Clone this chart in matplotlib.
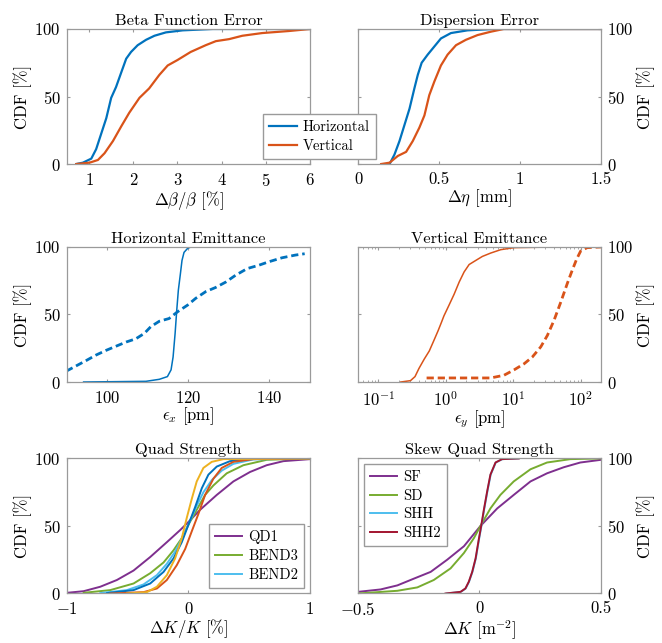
import numpy as np
import matplotlib
matplotlib.use("Agg")
from matplotlib import pyplot as plt

# MATLAB default line colours
BLUE = "#0072BD"
ORANGE = "#D95319"
YELLOW = "#EDB120"
PURPLE = "#7E2F8E"
GREEN = "#77AC30"
CYAN = "#4DBEEE"
DARKRED = "#A2142F"
AXCOL = "#9a9a9a"

# beta-beating CDFs, x in %
beta_h_x = [0.71, 0.86, 1.05, 1.16, 1.27, 1.39, 1.50, 1.61, 1.73, 1.84, 1.95,
            2.10, 2.29, 2.48, 2.74, 3.12, 3.80, 6.00]
beta_h_cdf = [0, 1, 4, 11, 22, 34, 49, 57, 68, 78, 83, 88, 92, 95, 97.5, 99, 100, 100]
beta_v_x = [0.71, 1.01, 1.20, 1.35, 1.54, 1.73, 1.91, 2.14, 2.36, 2.59, 2.78,
            3.00, 3.30, 3.64, 3.87, 4.17, 4.47, 4.92, 5.52, 6.00]
beta_v_cdf = [0, 1, 3, 8, 17, 28, 38, 49, 56, 66, 73, 77, 83, 88, 91, 92.5, 95,
              97, 98.5, 100]

# dispersion error CDFs, x in mm
disp_h_x = [0.195, 0.225, 0.256, 0.287, 0.318, 0.348, 0.369, 0.393, 0.430,
            0.471, 0.512, 0.574, 0.676, 0.840, 1.50]
disp_h_cdf = [0, 7, 17, 29, 41, 56, 66, 75, 81, 87, 93, 97, 99, 100, 100]
disp_v_x = [0.143, 0.195, 0.246, 0.297, 0.338, 0.379, 0.410, 0.440, 0.471,
            0.512, 0.553, 0.605, 0.666, 0.738, 0.820, 0.900, 1.50]
disp_v_cdf = [0, 1, 6, 9, 17, 27, 36, 51, 61, 73, 81, 88, 92, 95.5, 98, 100, 100]

# horizontal emittance, pm
ex_corr_x = [94.1, 109.5, 112.8, 114.8, 115.7, 116.2, 116.7, 117.1, 117.5,
             118.0, 118.4, 118.9, 119.8, 120.6]
ex_corr_cdf = [0, 0.5, 2, 4, 9, 18.5, 36, 53, 68, 80, 90, 96, 99, 100]
ex_init_x = [89.8, 92.3, 94.8, 97.2, 99.7, 102.1, 104.6, 107.0, 109.1, 110.7,
             112.8, 115.2, 117.3, 119.8, 121.8, 124.3, 126.7, 129.2, 131.6,
             134.5, 137.4, 139.8, 143.1, 146.4, 148.7]
ex_init_cdf = [8, 12, 16, 20, 23.5, 26.5, 29.6, 32, 36, 41, 45, 47, 52, 57, 62,
               67, 70, 74, 79, 84, 86.5, 89, 92, 94, 95]

# vertical emittance, pm
ey_corr_x = [0.215, 0.30, 0.35, 0.40, 0.48, 0.57, 0.67, 0.77, 0.86, 0.94, 1.12,
             1.33, 1.58, 1.87, 2.22, 2.78, 3.49, 4.64, 6.53, 10.3, 42.6]
ey_corr_cdf = [0, 1, 4, 10, 17, 23, 31, 38, 44, 49, 57, 65, 74, 81.5, 87, 90,
               93, 95.5, 98, 99.5, 100]
ey_init_x = [0.52, 1.19, 4.64, 7.3, 10.3, 14.5, 19.2, 25.6, 32.1, 40.3, 50.6,
             63.4, 75.3, 87.2, 100, 125, 200]
ey_init_cdf = [3, 3, 3, 5, 9, 13.5, 18.5, 26, 34.5, 45.7, 59, 73, 83, 91, 97,
               99.5, 100]

# quadrupole strength errors, %
qd1_x = [-1.0, -0.863, -0.726, -0.589, -0.452, -0.315, -0.178, -0.068, 0.0,
         0.096, 0.233, 0.37, 0.507, 0.644, 0.781, 1.0]
qd1_cdf = [0.5, 1.7, 5, 10, 17, 27, 38, 47, 53, 62, 73, 83, 90, 95, 98, 99.5]
bend3_x = [-0.863, -0.644, -0.452, -0.315, -0.205, -0.123, -0.055, 0.0, 0.068,
           0.137, 0.205, 0.315, 0.452, 0.644, 1.0]
bend3_cdf = [0.5, 2.5, 7.4, 15, 23, 32, 41, 51, 62, 73, 80, 89, 95, 99, 100]
bend2_x = [-0.726, -0.507, -0.37, -0.26, -0.178, -0.11, -0.041, 0.014, 0.068,
           0.123, 0.192, 0.274, 0.37, 0.534, 1.0]
bend2_cdf = [0.3, 2.5, 6.7, 13.6, 22, 31, 43, 54, 65, 75, 84, 91, 96, 99.3, 100]
quad4_x = [-0.67, -0.452, -0.315, -0.205, -0.123, -0.055, 0.0, 0.055, 0.11,
           0.164, 0.233, 0.342, 0.507, 1.0]
quad4_cdf = [0.3, 2.5, 7.4, 16, 26, 38, 51, 64, 78, 88, 94, 98, 99.5, 100]
quad5_x = [-0.644, -0.37, -0.26, -0.178, -0.096, -0.027, 0.027, 0.082, 0.137,
           0.205, 0.274, 0.37, 0.534, 1.0]
quad5_cdf = [0, 1, 3.7, 10, 21, 33, 46, 59, 73, 85, 93, 97.5, 99.5, 100]
quad6_x = [-0.507, -0.342, -0.26, -0.178, -0.11, -0.055, -0.014, 0.027, 0.068,
           0.123, 0.192, 0.288, 1.0]
quad6_cdf = [0, 1, 5, 13.6, 26, 41, 56, 70, 83, 93, 97.5, 99.5, 100]

# skew quadrupole strengths, m^-2
sf_x = [-0.5, -0.407, -0.338, -0.27, -0.201, -0.133, -0.064, 0.004, 0.073,
        0.141, 0.21, 0.278, 0.347, 0.415, 0.5]
sf_cdf = [1.2, 3, 6, 11, 16, 25, 35, 50, 63, 73, 83, 89, 93.5, 97, 99]
sd_x = [-0.5, -0.338, -0.256, -0.188, -0.119, -0.064, -0.023, 0.004, 0.045,
        0.086, 0.141, 0.21, 0.278, 0.374, 0.5]
sd_cdf = [0, 2, 4.5, 10, 18.6, 30, 41, 50, 63, 73, 83, 92, 97, 99.5, 100]
shh_x = [-0.135, -0.077, -0.057, -0.043, -0.029, -0.015, -0.002, 0.008, 0.019,
         0.033, 0.046, 0.067, 0.094, 0.16]
shh_cdf = [0, 1.2, 3.7, 8.7, 16, 26, 40, 50, 62, 76, 88, 97, 99.5, 100]
shh2_x = [-0.14, -0.078, -0.058, -0.044, -0.030, -0.016, -0.003, 0.007, 0.018,
          0.032, 0.045, 0.066, 0.093, 0.162]
shh2_cdf = [0, 1.2, 3.7, 8.7, 16, 26, 40, 50, 62, 76, 88, 97, 99.5, 100]

plt.rcParams.update({
    "font.family": "serif",
    "font.serif": ["cmr10"],
    "mathtext.fontset": "cm",
    "axes.formatter.use_mathtext": True,
    "font.size": 12,
    "axes.edgecolor": AXCOL,
    "axes.linewidth": 0.9,
    "xtick.color": AXCOL,
    "ytick.color": AXCOL,
    "xtick.labelcolor": "black",
    "ytick.labelcolor": "black",
    "xtick.labelsize": 12,
    "ytick.labelsize": 12,
    "xtick.direction": "in",
    "ytick.direction": "in",
    "xtick.major.size": 2.5,
    "ytick.major.size": 2.5,
    "xtick.minor.size": 1.3,
    "xtick.major.pad": 5.5,
    "ytick.major.pad": 4.5,
    "xtick.top": True,
    "ytick.right": True,
    "legend.edgecolor": AXCOL,
    "legend.fancybox": False,
    "legend.framealpha": 1,
    "legend.fontsize": 10.5,
    "legend.handlelength": 1.9,
    "legend.handletextpad": 0.4,
    "legend.borderpad": 0.4,
    "legend.labelspacing": 0.35,
})

fig = plt.figure(figsize=(6.62, 6.43), dpi=100)
W, H = 0.367, 0.21
xl, xr = 0.1012, 0.5408
rows = [0.7449, 0.4059, 0.0770]


def make_ax(col, row, title, xlabel):
    x0 = xl if col == 0 else xr
    ax = fig.add_axes([x0, rows[row], W, H])
    ax.set_title(title, fontsize=11.8, pad=3)
    ax.set_xlabel(xlabel, labelpad=0)
    ax.set_ylim(0, 100)
    ax.set_yticks([0, 50, 100])
    ax.set_ylabel("CDF [%]", labelpad=2)
    if col == 1:
        ax.yaxis.set_label_position("right")
        ax.yaxis.set_tick_params(labelleft=False, labelright=True)
    return ax


# beta function error
ax1 = make_ax(0, 0, "Beta Function Error", r"$\Delta\beta/\beta$ [%]")
h1, = ax1.plot(beta_h_x, beta_h_cdf, color=BLUE, lw=1.6, label="Horizontal")
h2, = ax1.plot(beta_v_x, beta_v_cdf, color=ORANGE, lw=1.6, label="Vertical")
ax1.set_xlim(0.5, 6)
ax1.set_xticks([1, 2, 3, 4, 5, 6])

# dispersion error
ax2 = make_ax(1, 0, "Dispersion Error", r"$\Delta\eta$ [mm]")
ax2.plot(disp_h_x, disp_h_cdf, color=BLUE, lw=1.6)
ax2.plot(disp_v_x, disp_v_cdf, color=ORANGE, lw=1.6)
ax2.set_xlim(0, 1.5)
ax2.set_xticks([0, 0.5, 1, 1.5])
ax2.set_xticklabels(["0", "0.5", "1", "1.5"])

fig.legend(handles=[h1, h2], loc="center", bbox_to_anchor=(0.4826, 0.7877))

# horizontal emittance
ax3 = make_ax(0, 1, "Horizontal Emittance", r"$\epsilon_x$ [pm]")
ax3.plot(ex_corr_x, ex_corr_cdf, color=BLUE, lw=1.1)
ax3.plot(ex_init_x, ex_init_cdf, color=BLUE, lw=2.0, ls=(0, (2.6, 1.4)))
ax3.set_xlim(90, 150)
ax3.set_xticks([100, 120, 140])

# vertical emittance
ax4 = make_ax(1, 1, "Vertical Emittance", r"$\epsilon_y$ [pm]")
ax4.plot(ey_corr_x, ey_corr_cdf, color=ORANGE, lw=1.1)
ax4.plot(ey_init_x, ey_init_cdf, color=ORANGE, lw=2.0, ls=(0, (2.6, 1.4)))
ax4.set_xscale("log")
ax4.set_xlim(0.05, 200)
ax4.set_xticks([0.1, 1, 10, 100])

# quadrupole strengths
ax5 = make_ax(0, 2, "Quad Strength", r"$\Delta K/K$ [%]")
ax5.plot(qd1_x, qd1_cdf, color=PURPLE, lw=1.4, label="QD1")
ax5.plot(bend3_x, bend3_cdf, color=GREEN, lw=1.4, label="BEND3")
ax5.plot(bend2_x, bend2_cdf, color=CYAN, lw=1.4, label="BEND2")
ax5.plot(quad4_x, quad4_cdf, color=BLUE, lw=1.4)
ax5.plot(quad5_x, quad5_cdf, color=ORANGE, lw=1.4)
ax5.plot(quad6_x, quad6_cdf, color=YELLOW, lw=1.4)
ax5.set_xlim(-1, 1)
ax5.set_xticks([-1, 0, 1])
ax5.legend(loc="lower right", borderaxespad=0.4)

# skew quadrupole strengths
ax6 = make_ax(1, 2, "Skew Quad Strength", r"$\Delta K$ [m$^{-2}$]")
ax6.plot(sf_x, sf_cdf, color=PURPLE, lw=1.4, label="SF")
ax6.plot(sd_x, sd_cdf, color=GREEN, lw=1.4, label="SD")
ax6.plot(shh_x, shh_cdf, color=CYAN, lw=1.4, label="SHH")
ax6.plot(shh2_x, shh2_cdf, color=DARKRED, lw=1.4, label="SHH2")
ax6.set_xlim(-0.5, 0.5)
ax6.set_xticks([-0.5, 0, 0.5])
ax6.set_xticklabels([r"$-0.5$", "0", "0.5"])
ax6.legend(loc="upper left", borderaxespad=0.4)

fig.savefig("out.png", dpi=100)
